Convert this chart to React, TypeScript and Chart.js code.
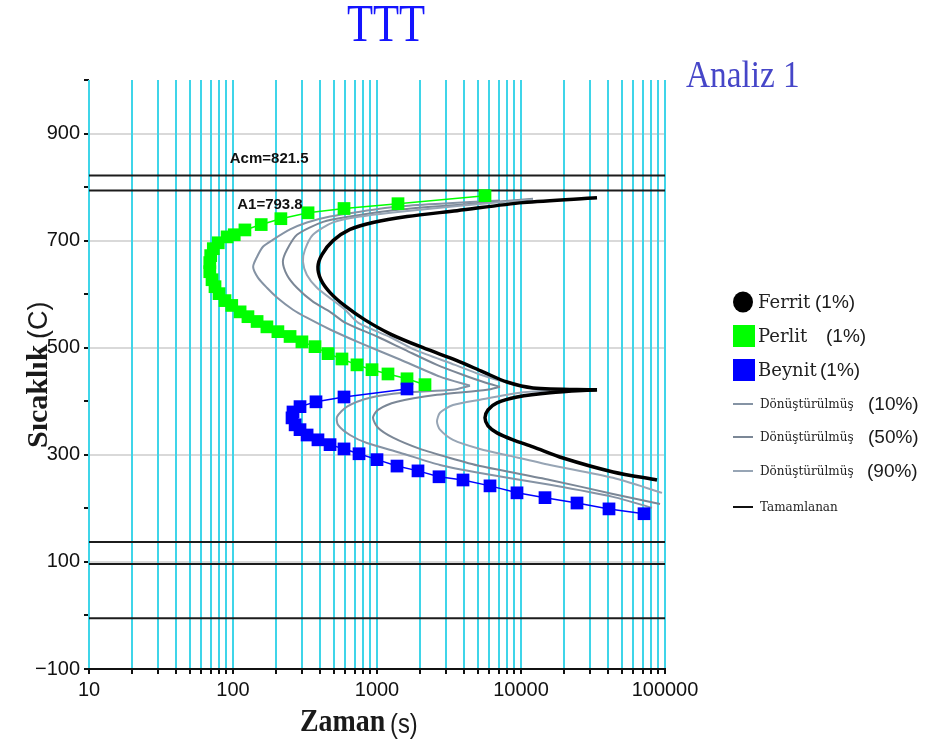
import React, { useEffect, useRef } from 'react';
import { Chart, registerables } from 'chart.js';

Chart.register(...registerables);

// ---------- axes ----------
const xDecades = [10, 100, 1000, 10000];
const xSteps = [1, 2, 3, 4, 5, 6, 7, 8, 9];
const xMin = 10;
const xMax = 100000;
const xLabelValues = [10, 100, 1000, 10000, 100000];
const yMin = -100;
const yMax = 1000;
const yStep = 100;
const yLabelValues = [-100, 100, 300, 500, 700, 900];
const yGridValues = [100, 300, 500, 700, 900];

// ---------- reference temperatures ----------
const refNames = ['Acm', 'A1', 'Ms', 'M50', 'M90'];
const refTemps = [821.5, 793.8, 137, 96, -5];
const refLabelled = ['Acm', 'A1'];

// ---------- Perlit (1%) ----------
const perlitTime = [5623, 1399, 590, 332, 215, 157, 121, 102, 91, 79, 73, 70, 69, 69, 71.5, 75, 80, 88, 98, 112, 127, 147, 172, 205, 249, 301, 371, 457, 571, 726, 923, 1192, 1616, 2154];
const perlitTemp = [784, 769, 760, 752, 741, 730, 720, 711, 707, 696, 685, 672, 659, 642, 627, 614, 601, 588, 579, 567, 558, 549, 539, 530, 521, 511, 502, 489, 479, 468, 459, 451, 442, 431];

// ---------- Beynit (1%) ----------
const beynitTime = [1616, 590, 377, 292, 261, 257, 270, 292, 327, 389, 472, 590, 750, 1000, 1377, 1926, 2696, 3956, 6091, 9380, 14678, 24484, 40840, 71490];
const beynitTemp = [423, 408, 399, 390, 380, 369, 356, 347, 337, 328, 319, 311, 302, 291, 279, 270, 259, 253, 242, 229, 220, 210, 199, 190];

// ---------- Tamamlanan ----------
const tamUpperTime = [33720, 10325, 3594, 1616, 938, 649, 495, 415, 389, 408, 472, 600, 825, 1231, 2086, 3594, 5446, 7996, 12115, 33720];
const tamUpperTemp = [780, 771, 756, 745, 734, 721, 700, 674, 651, 627, 603, 578, 552, 526, 500, 476, 455, 436, 425, 421.5];
const tamLowerTime = [33720, 15899, 9380, 6813, 5902, 5623, 5902, 6813, 8799, 12115, 19575, 43560, 88000];
const tamLowerTemp = [421.5, 416, 408, 397, 384, 369, 354, 341, 328, 315, 294, 268, 253];

// ---------- Dönüştürülmüş (10%) ----------
const d10UpperTime = [7149, 2738, 1444, 762, 472, 326, 249, 190, 162, 147, 138, 149, 172, 202, 261, 326, 472, 762, 1444, 2738, 4424];
const d10UpperTemp = [775, 769, 764, 754, 745, 734, 721, 702, 689, 670, 651, 631, 612, 594, 571, 556, 534, 509, 478, 446, 429];
const d10LowerTime = [4424, 3372, 1515, 894, 619, 528, 536, 649, 852, 1444, 2738, 5192, 15899, 43560, 81210];
const d10LowerTemp = [429, 421.5, 416, 406.5, 390, 371, 356, 337, 322, 304, 281, 266, 244, 221.5, 201];

// ---------- Dönüştürülmüş (50%) ----------
const d50UpperTime = [12115, 3771, 1444, 649, 422, 278, 237, 222, 237, 278, 359, 472, 600, 1016, 1565, 2610, 3894, 5623, 7149];
const d50UpperTemp = [778, 767, 758, 745, 735, 711, 683, 661, 636, 612, 586, 567, 547, 520, 496, 468, 450, 435, 427];
const d50LowerTime = [7149, 5806, 2610, 1377, 1016, 938, 1016, 1292, 1989, 3214, 5192, 15899, 43560, 92330];
const d50LowerTemp = [427, 421.5, 412, 399, 384, 369, 350.5, 332, 311, 294, 279, 253, 227, 208];

// ---------- Dönüştürülmüş (90%) ----------
const d90UpperTime = [12115, 3771, 1444, 762, 495, 359, 316, 306, 326, 383, 487, 600, 738, 1231, 1836, 3481, 5192, 8386, 12510, 15899];
const d90UpperTemp = [777, 765, 754, 745, 734, 711, 683, 661, 636, 612, 590, 571, 547, 520, 496, 468, 450, 433, 423, 420];
const d90LowerTime = [15899, 9842, 5192, 3372, 2738, 2610, 2738, 3372, 5192, 8386, 15899, 43560, 95320];
const d90LowerTemp = [420, 416, 403, 393, 378.5, 362, 347, 328, 311, 298, 281, 257, 229];

// ---------- legend ----------
const legendNames = ['Ferrit', 'Perlit', 'Beynit', 'Dönüştürülmüş', 'Dönüştürülmüş', 'Dönüştürülmüş', 'Tamamlanan'];
const legendPercents = ['(1%)', '(1%)', '(1%)', '(10%)', '(50%)', '(90%)', ''];

const C_BLUE = '#0000ff';
const C_GREEN = '#00ff00';
const C_BLACK = '#000000';
const C_D10 = '#8593a4';
const C_D50 = '#7b8796';
const C_D90 = '#97a5b5';
const C_GRID_X = '#3fd5e9';
const SANS = '"Liberation Sans", Arial, sans-serif';
const SERIF = '"Liberation Serif", "Times New Roman", serif';
const DSERIF = '"DejaVu Serif", serif';

function zip(ts: number[], vs: number[]) {
  return ts.map((t, i) => ({ x: t, y: vs[i] }));
}

function drawText(ctx: CanvasRenderingContext2D, text: string, x: number, y: number, font: string, color: string, align: CanvasTextAlign = 'left', scaleX = 1, rot = 0) {
  ctx.save();
  ctx.font = font;
  ctx.fillStyle = color;
  ctx.textAlign = align;
  ctx.textBaseline = 'alphabetic';
  ctx.translate(x, y);
  if (rot) ctx.rotate(rot);
  ctx.scale(scaleX, 1);
  ctx.fillText(text, 0, 0);
  ctx.restore();
}

const decorPlugin = {
  id: 'decor',
  afterDatasetsDraw(chart: any) {
    const ctx: CanvasRenderingContext2D = chart.ctx;
    const xs = chart.scales.x;
    const ys = chart.scales.y;
    refNames.forEach((name, i) => {
      if (!refLabelled.includes(name)) return;
      const v = refTemps[i];
      const isAcm = name === 'Acm';
      const px = xs.getPixelForValue(isAcm ? 95 : 107);
      const py = ys.getPixelForValue(v) + (isAcm ? -13 : 19);
      drawText(ctx, `${name}=${v}`, px, py, `bold 15px ${SANS}`, '#111');
    });
  },
  afterDraw(chart: any) {
    const ctx: CanvasRenderingContext2D = chart.ctx;
    // titles
    drawText(ctx, 'TTT', 386, 41, `52px ${SERIF}`, '#1414ff', 'center', 0.82);
    drawText(ctx, 'Analiz 1', 686, 87, `37px ${SERIF}`, '#4646c8', 'left', 0.9);
    // x title
    drawText(ctx, 'Zaman', 300, 731, `bold 31px ${SERIF}`, '#1a1a1a', 'left', 0.9);
    drawText(ctx, '(s)', 390, 733, `28px ${SANS}`, '#1a1a1a', 'left', 0.85);
    // y title (rotated)
    drawText(ctx, 'Sıcaklık', 47, 448, `bold 30px ${SERIF}`, '#1a1a1a', 'left', 1, -Math.PI / 2);
    drawText(ctx, '(C)', 47, 339, `27px ${SANS}`, '#1a1a1a', 'left', 1, -Math.PI / 2);

    // legend
    const rows = [302, 336, 370, 404, 437, 471, 507];
    const pctX = [815, 826, 820, 868, 868, 867, 0];
    legendNames.forEach((name, i) => {
      const cy = rows[i];
      ctx.save();
      if (i === 0) {
        ctx.fillStyle = C_BLACK;
        ctx.beginPath();
        ctx.ellipse(743, cy, 10, 10.5, 0, 0, Math.PI * 2);
        ctx.fill();
      } else if (i === 1 || i === 2) {
        ctx.fillStyle = i === 1 ? C_GREEN : C_BLUE;
        ctx.fillRect(733, cy - 11, 22, 22);
      } else {
        ctx.strokeStyle = [C_D10, C_D50, C_D90, '#111'][i - 3];
        ctx.lineWidth = 2;
        ctx.beginPath();
        ctx.moveTo(733, cy);
        ctx.lineTo(753, cy);
        ctx.stroke();
      }
      ctx.restore();
      if (i < 3) {
        drawText(ctx, name, 758, cy + 6, `18px ${DSERIF}`, '#222');
      } else {
        drawText(ctx, name, 760, cy + 4, `12px ${DSERIF}`, '#222');
      }
      if (legendPercents[i]) {
        drawText(ctx, legendPercents[i], pctX[i], cy + 6, `19px ${SANS}`, '#1a1a1a');
      }
    });
  },
};

export default function App() {
  const ref = useRef<HTMLCanvasElement>(null);
  useEffect(() => {
    const canvas = ref.current;
    if (!canvas) return;

    const xTicks: number[] = [];
    xDecades.forEach((d) => xSteps.forEach((s) => xTicks.push(d * s)));
    xTicks.push(xMax);

    const curve = (label: string, data: any[], color: string, width: number, order: number, tension: number) => ({
      label,
      data,
      borderColor: color,
      backgroundColor: color,
      borderWidth: width,
      pointRadius: 0,
      pointHoverRadius: 0,
      showLine: true,
      tension,
      order,
      fill: false,
    });

    const datasets: any[] = [
      {
        label: 'Beynit (1%)',
        data: zip(beynitTime, beynitTemp),
        borderColor: C_BLUE,
        backgroundColor: C_BLUE,
        borderWidth: 1.5,
        pointStyle: 'rect',
        pointRadius: 9,
        pointBorderWidth: 0,
        showLine: true,
        tension: 0,
        order: 0,
      },
      {
        label: 'Perlit (1%)',
        data: zip(perlitTime, perlitTemp),
        borderColor: C_GREEN,
        backgroundColor: C_GREEN,
        borderWidth: 1.5,
        pointStyle: 'rect',
        pointRadius: 9,
        pointBorderWidth: 0,
        showLine: true,
        tension: 0,
        order: 1,
      },
      curve('Tamamlanan', zip(tamUpperTime, tamUpperTemp), C_BLACK, 3.5, 2, 0.3),
      curve('Tamamlanan', zip(tamLowerTime, tamLowerTemp), C_BLACK, 3.5, 2, 0.3),
      curve('Dönüştürülmüş (90%)', zip(d90UpperTime, d90UpperTemp), C_D90, 2, 3, 0.25),
      curve('Dönüştürülmüş (90%)', zip(d90LowerTime, d90LowerTemp), C_D90, 2, 3, 0.25),
      curve('Dönüştürülmüş (50%)', zip(d50UpperTime, d50UpperTemp), C_D50, 2, 4, 0.25),
      curve('Dönüştürülmüş (50%)', zip(d50LowerTime, d50LowerTemp), C_D50, 2, 4, 0.25),
      curve('Dönüştürülmüş (10%)', zip(d10UpperTime, d10UpperTemp), C_D10, 2, 5, 0.25),
      curve('Dönüştürülmüş (10%)', zip(d10LowerTime, d10LowerTemp), C_D10, 2, 5, 0.25),
    ];
    refNames.forEach((n, i) => {
      datasets.push(curve(n, [{ x: xMin, y: refTemps[i] }, { x: xMax, y: refTemps[i] }], '#1c1c1c', 2, 10, 0));
    });

    const chart = new Chart(canvas, {
      type: 'scatter',
      data: { datasets },
      plugins: [decorPlugin],
      options: {
        animation: false,
        responsive: false,
        devicePixelRatio: 1,
        events: [],
        layout: { padding: { top: 80, right: 263, left: 0, bottom: 0 } },
        plugins: {
          legend: { display: false },
          tooltip: { enabled: false },
          title: { display: false },
        },
        scales: {
          x: {
            type: 'logarithmic',
            min: xMin,
            max: xMax,
            afterBuildTicks: (scale: any) => {
              scale.ticks = xTicks.map((v) => ({ value: v }));
            },
            afterFit: (scale: any) => {
              scale.height = 80;
            },
            ticks: {
              autoSkip: false,
              maxRotation: 0,
              minRotation: 0,
              color: '#111',
              padding: 4,
              font: { family: SANS, size: 20 },
              callback: (v: any) => (xLabelValues.includes(Number(v)) ? String(v) : ''),
            },
            grid: { color: C_GRID_X, lineWidth: 2, tickColor: '#111', tickLength: 5, z: -1 },
            border: { display: true, color: '#111', width: 2 },
          },
          y: {
            type: 'linear',
            min: yMin,
            max: yMax,
            afterFit: (scale: any) => {
              scale.width = 89;
            },
            ticks: {
              stepSize: yStep,
              autoSkip: false,
              color: '#111',
              padding: 4,
              font: { family: SANS, size: 20 },
              callback: (v: any) => (yLabelValues.includes(Number(v)) ? String(v).replace('-', '\u2212') : ''),
            },
            grid: {
              color: (c: any) => (c.tick && yGridValues.includes(c.tick.value) ? '#d9d9d9' : 'rgba(0,0,0,0)'),
              lineWidth: 2,
              tickColor: '#111',
              tickLength: 5,
              z: -2,
            },
            border: { display: false },
          },
        },
      } as any,
    });
    return () => chart.destroy();
  }, []);

  return (
    <div style={{ position: 'absolute', left: 0, top: 0, width: 928, height: 749, background: '#fff' }}>
      <canvas ref={ref} width={928} height={749} style={{ width: 928, height: 749, display: 'block' }} />
    </div>
  );
}
